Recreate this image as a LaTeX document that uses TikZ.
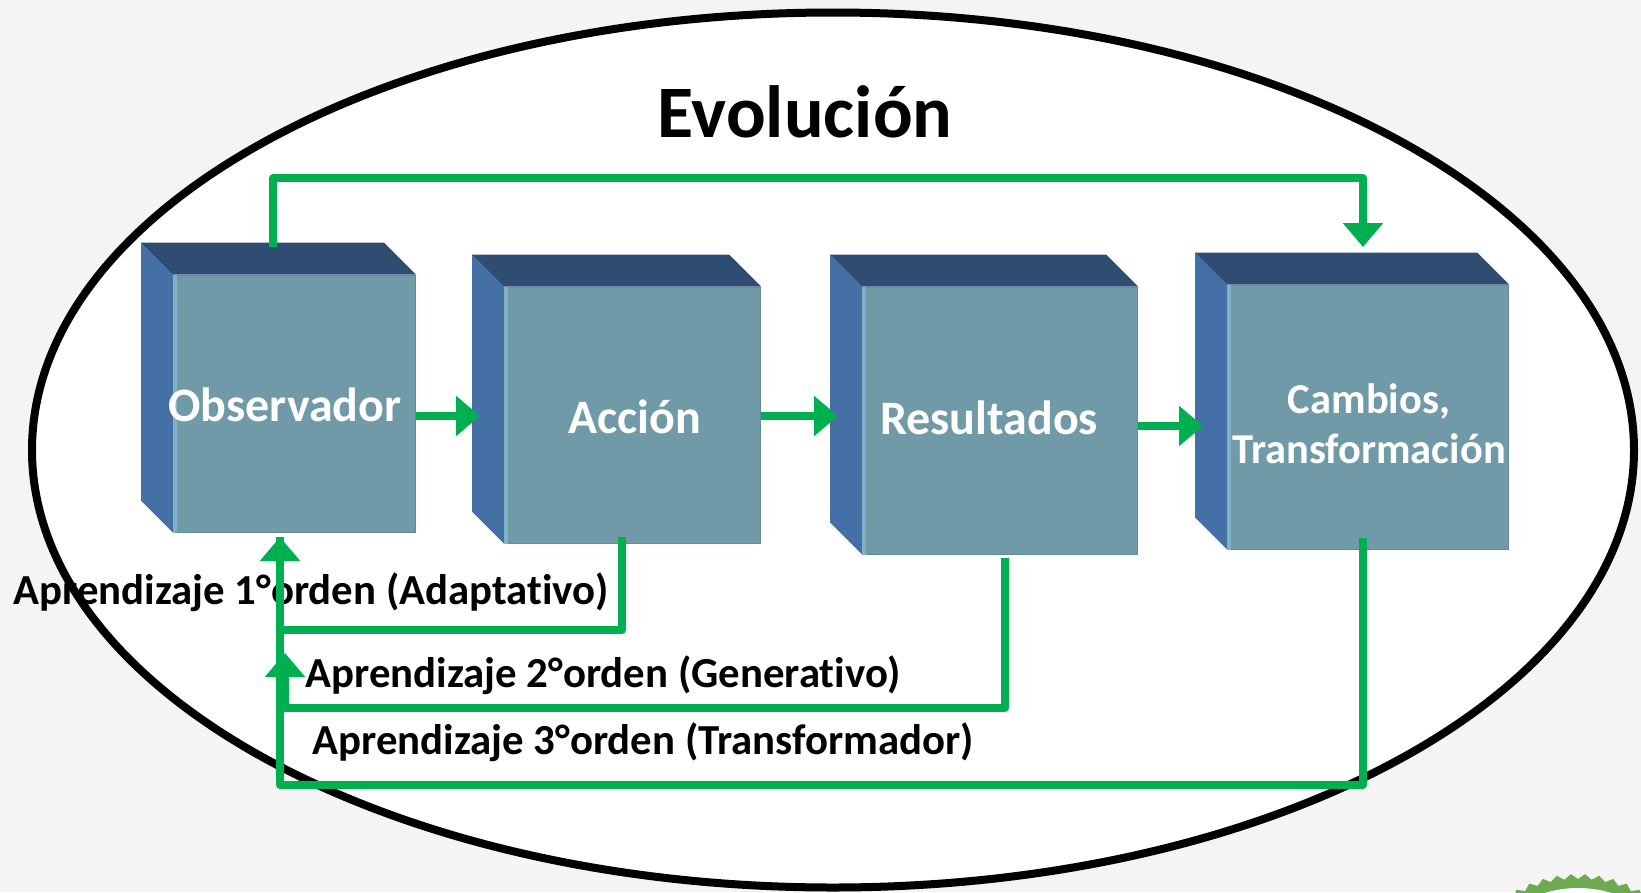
\documentclass[tikz,border=0pt]{standalone}
\usepackage{fontspec}
\setmainfont[Ligatures=NoCommon]{Carlito}
\usetikzlibrary{arrows.meta}
\usetikzlibrary{shapes.geometric}
\definecolor{fondo}{RGB}{244,244,244}
\definecolor{frente}{RGB}{112,154,168}
\definecolor{frenteluz}{RGB}{126,178,196}
\definecolor{lado}{RGB}{69,112,165}
\definecolor{tapa}{RGB}{47,77,114}
\definecolor{flechaverde}{RGB}{0,176,80}
\definecolor{sello}{RGB}{110,170,80}
\tikzset{
  flecha/.style={draw=flechaverde, line width=8pt, line join=round},
  punta/.style={flecha, -{Triangle[width=39pt,length=24pt]}},
  caja/.style={fill=frente, draw=frente!90!black, line width=1pt, inner sep=0pt},
  rotulo/.style={text=white, font=\bfseries\fontsize{48}{54}\selectfont},
  nota/.style={text=black, anchor=west, font=\bfseries\fontsize{42.8}{48}\selectfont},
}
\begin{document}
\begin{tikzpicture}[x=1pt, y=-1pt]
  \useasboundingbox (0,0) rectangle (1641,892);
  \fill [fondo] (0,0) rectangle (1641,892);

  % sello in the corner
  \begin{scope}
    \clip (0,0) rectangle (1641,892);
    \node [star, star points=56, star point ratio=0.96, fill=sello, minimum size=244pt, inner sep=0pt] (sello) at (1578,1001) {};
    \node [circle, fill=white, minimum size=226pt, inner sep=0pt] (selloin) at (sello.center) {};
  \end{scope}

  \node [ellipse, draw=black, fill=white, line width=8pt, minimum width=1602pt, minimum height=875pt, inner sep=0pt] (evolucion) at (833,450) {};
  \node [font=\bfseries\fontsize{74}{80}\selectfont] (titulo) at (805,112) {Evolución};

  % the four boxes
  \foreach \n/\cx/\cy/\w/\h in {obs/294.5/403.5/242/257, acc/632.5/415/256/256, res/1000/420.5/275/267, cam/1368/417/281/264} {
    \node [caja, minimum width=\w pt, minimum height=\h pt] (\n) at (\cx,\cy) {};
    \fill [lado] (\n.north west) -- ++(-32,-32) -- ([shift={(-32,-32)}]\n.south west) -- (\n.south west) -- cycle;
    \fill [tapa] (\n.north west) -- ++(-32,-32) -- ([shift={(-32,-32)}]\n.north east) -- (\n.north east) -- cycle;
    \fill [frenteluz] (\n.north west) rectangle ([xshift=4]\n.south west);
  }
  \node [rotulo] (tobs) at (285,405) {Observador};
  \node [rotulo] (tacc) at (634.5,416.5) {Acción};
  \node [rotulo] (tres) at (989,418) {Resultados};
  \node [rotulo, font=\bfseries\fontsize{42.5}{50}\selectfont, align=center] (tcam) at (1369,424) {Cambios,\\Transformación};

  % learning loops
  \node [nota] (n1) at (10,592) {Aprendizaje 1°orden (Adaptativo)};
  \node [nota] (n2) at (302,675) {Aprendizaje 2°orden (Generativo)};
  \node [nota] (n3) at (309,742) {Aprendizaje 3°orden (Transformador)};

  % forward arrows
  \draw [punta] ([shift={(0,12.5)}]obs.east) -- ([shift={(-24,1)}]acc.west);
  \draw [punta] ([shift={(0,1)}]acc.east) -- ([shift={(-24,1)}]res.west |- acc.east);
  \draw [punta] ([shift={(0,5.5)}]res.east) -- ([shift={(-24,9)}]cam.west);

  % top line
  \coordinate (salobs) at (273,247);
  \coordinate (techo) at (1363,178);
  \coordinate (llegacam) at (1363,247);
  \draw [punta] (salobs) |- (techo) -- (llegacam);

  % back lines
  \coordinate (salacc) at (622,537);
  \coordinate (esq1) at (622,630);
  \coordinate (tipobs) at (280,537);
  \coordinate (salres) at (1005,558);
  \coordinate (esq2) at (1005,708);
  \coordinate (tip2) at (285,653);
  \coordinate (salcam) at (1363,538);
  \coordinate (esq3) at (1363,785);
  \coordinate (pie) at (280,785);
  \draw [flecha] (salcam) -- (esq3) -- (pie) -- (tipobs);
  \draw [punta] (salacc) -- (esq1) -| (tipobs);
  \draw [punta] (salres) -- (esq2) -| (tip2);
\end{tikzpicture}
\end{document}
